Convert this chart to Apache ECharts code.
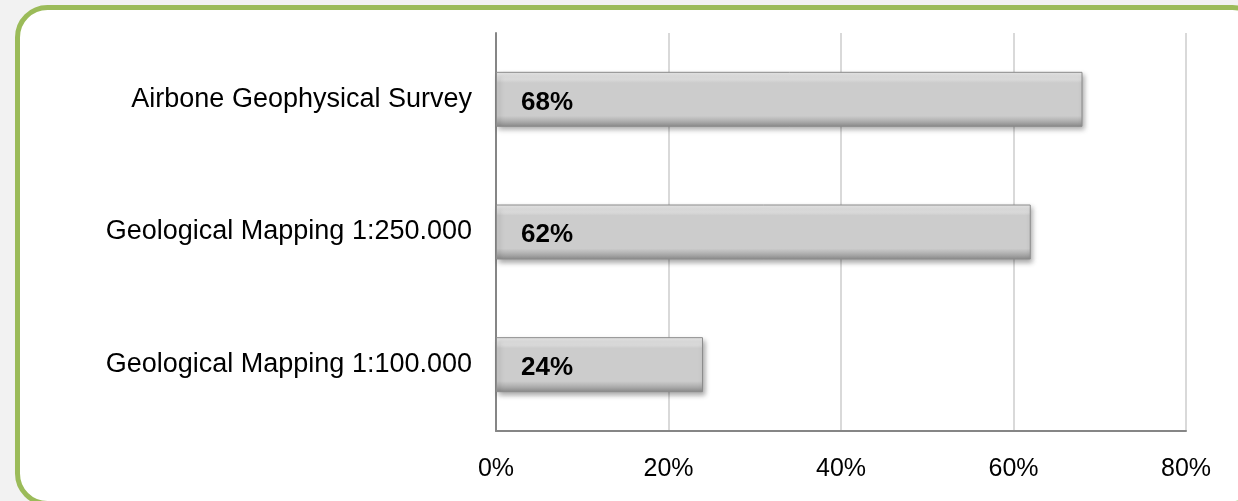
<!DOCTYPE html>
<html>
<head>
<meta charset="utf-8">
<title>Survey coverage</title>
<script src="https://cdn.jsdelivr.net/npm/echarts@6/dist/echarts.min.js"></script>
<style>
  html, body { margin: 0; padding: 0; background: #f2f2f2; }
  #main { width: 1238px; height: 501px; }
</style>
</head>
<body>
<div id="main"></div>
<script>
// data (bottom to top, as the category axis draws them)
var categories = ['Geological Mapping 1:100.000', 'Geological Mapping 1:250.000', 'Airbone Geophysical Survey'];
var coverage = [0.24, 0.62, 0.68];
var xTicks = [0, 0.2, 0.4, 0.6, 0.8];

var pct = function(v){ return Math.round(v * 100) + '%'; };

var chart = echarts.init(document.getElementById('main'));

chart.setOption({
  backgroundColor: '#f2f2f2'
  ,textStyle: { fontFamily: 'Liberation Sans, Arial, sans-serif' }
  //green rounded frame
  ,graphic: [{
    type: 'rect'
    ,z: -10
    ,silent: true
    ,shape: { x: 17.5, y: 7.5, width: 1245, height: 496, r: 30 }
    ,style: { fill: '#ffffff', stroke: '#9bbb59', lineWidth: 5 }
  }]
  ,grid: { left: 496, right: 52, top: 33, bottom: 70 }
  ,xAxis: {
    type: 'value'
    ,min: xTicks[0]
    ,max: xTicks[xTicks.length - 1]
    ,interval: 0.2
    ,axisLine: { show: true, lineStyle: { color: '#868686', width: 2 } }
    ,axisTick: { show: false }
    ,axisLabel: { formatter: pct, color: '#000', fontSize: 25, margin: 26 }
    ,splitLine: { lineStyle: { color: '#d9d9d9', width: 2 } }
  }
  ,yAxis: {
    type: 'category'
    ,data: categories
    ,axisLine: { show: true, lineStyle: { color: '#868686', width: 2 } }
    ,axisTick: { show: false }
    ,axisLabel: { color: '#000', fontSize: 27, margin: 24 }
  }
  ,series: [{
    type: 'bar'
    ,data: coverage
    ,barWidth: 55
    ,itemStyle: {
      color: new echarts.graphic.LinearGradient(0, 0, 0, 1, [
        { offset: 0, color: '#ececec' }
        ,{ offset: 0.14, color: '#dcdcdc' }
        ,{ offset: 0.2, color: '#cccccc' }
        ,{ offset: 0.8, color: '#cccccc' }
        ,{ offset: 0.88, color: '#b4b4b4' }
        ,{ offset: 1, color: '#8a8a8a' }
      ])
      ,borderColor: '#8c8c8c'
      ,borderWidth: 1
      ,shadowColor: 'rgba(0,0,0,0.35)'
      ,shadowBlur: 5
      ,shadowOffsetX: 2
      ,shadowOffsetY: 3
    }
    ,label: {
      show: true
      ,position: 'insideLeft'
      ,distance: 25
      ,offset: [0, 3]
      ,formatter: function(p){ return pct(p.value); }
      ,color: '#000'
      ,fontWeight: 'bold'
      ,fontSize: 26
    }
  }]
});
</script>
</body>
</html>
